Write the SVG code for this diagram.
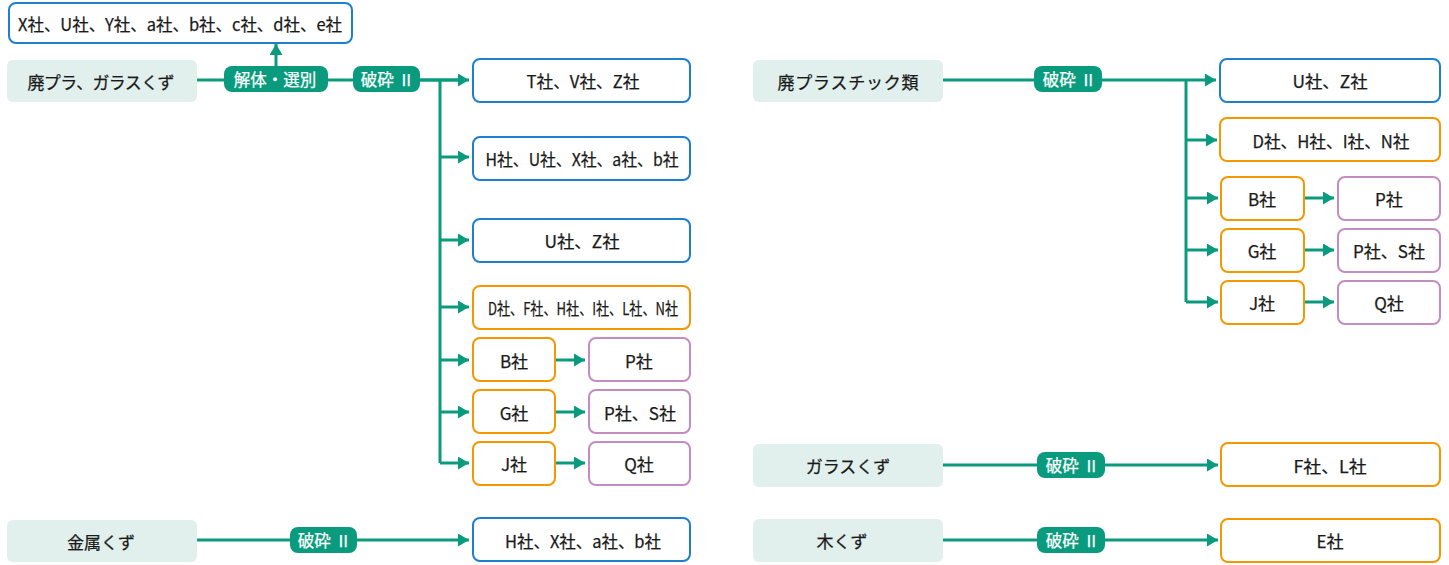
<svg xmlns="http://www.w3.org/2000/svg" width="1449" height="565" viewBox="0 0 1449 565">
<defs>
<marker id="ah" markerUnits="userSpaceOnUse" markerWidth="12" markerHeight="14" refX="11" refY="6.5" orient="auto">
<path d="M0,0 L11,6.5 L0,13 z" fill="#0a9b7e"/>
</marker>
<style>
text{font-family:"Noto Sans CJK JP","Noto Sans",sans-serif;font-size:17px;fill:#1a1a1a;stroke:#1a1a1a;stroke-width:0.25px;text-anchor:middle;dominant-baseline:central;font-weight:400}
.src{fill:#e1f0ec;stroke:none}
.blue{fill:#fff;stroke:#1e7fcd;stroke-width:2}
.org{fill:#fff;stroke:#f39800;stroke-width:2}
.pur{fill:#fff;stroke:#c38dc2;stroke-width:2}
.pill{fill:#0a9b7e}
.pt{fill:#fff;stroke:#fff;font-size:16.5px}
.ln{stroke:#0a9b7e;stroke-width:3;fill:none}
.ar{stroke:#0a9b7e;stroke-width:3;fill:none;marker-end:url(#ah)}
</style>
</defs>
<g id="connectors">
<path class="ln" d="M197,80 H460"/>
<path class="ar" d="M420,80 H469"/>
<path class="ar" d="M276,66 V44"/>
<path class="ln" d="M440,80 V463"/>
<path class="ar" d="M440,157 H469"/>
<path class="ar" d="M440,240 H469"/>
<path class="ar" d="M440,307 H469"/>
<path class="ar" d="M440,360 H469"/>
<path class="ar" d="M440,412 H469"/>
<path class="ar" d="M440,463 H469"/>
<path class="ar" d="M555,360 H585"/>
<path class="ar" d="M555,412 H585"/>
<path class="ar" d="M555,463 H585"/>
<path class="ar" d="M197,540 H469"/>
<path class="ar" d="M943,80 H1216"/>
<path class="ln" d="M1186,80 V302"/>
<path class="ar" d="M1186,140 H1217"/>
<path class="ar" d="M1186,198 H1218"/>
<path class="ar" d="M1186,250 H1218"/>
<path class="ar" d="M1186,302 H1218"/>
<path class="ar" d="M1304,198 H1334"/>
<path class="ar" d="M1304,250 H1334"/>
<path class="ar" d="M1304,302 H1334"/>
<path class="ar" d="M943,465 H1218"/>
<path class="ar" d="M943,540 H1218"/>
</g>
<g id="pills">
<g id="p1"><rect class="pill" x="224" y="66" width="104" height="26" rx="8"/><text class="pt" x="275" y="79">解体・選別</text></g>
<g id="p2"><rect class="pill" x="353" y="66" width="67" height="26" rx="8"/><text class="pt" x="386" y="79">破砕 <tspan dx="4">II</tspan></text></g>
<g id="p3"><rect class="pill" x="290" y="527" width="67" height="26" rx="8"/><text class="pt" x="323" y="540">破砕 <tspan dx="4">II</tspan></text></g>
<g id="p4"><rect class="pill" x="1034" y="66" width="68" height="26" rx="8"/><text class="pt" x="1068" y="79">破砕 <tspan dx="4">II</tspan></text></g>
<g id="p5"><rect class="pill" x="1037" y="452" width="68" height="26" rx="8"/><text class="pt" x="1071" y="465">破砕 <tspan dx="4">II</tspan></text></g>
<g id="p6"><rect class="pill" x="1037" y="527" width="68" height="26" rx="8"/><text class="pt" x="1071" y="540">破砕 <tspan dx="4">II</tspan></text></g>
</g>
<g id="n_top"><rect class="blue" x="9" y="3" width="343" height="40" rx="7"/><text x="180" y="23" textLength="324" lengthAdjust="spacingAndGlyphs">X社、U社、Y社、a社、b社、c社、d社、e社</text></g>
<g id="s1"><rect class="src" x="7" y="60" width="190" height="42" rx="6"/><text x="101" y="81" textLength="147" lengthAdjust="spacing">廃プラ、ガラスくず</text></g>
<g id="n1"><rect class="blue" x="473" y="59" width="217" height="43" rx="7"/><text x="583" y="80" textLength="113" lengthAdjust="spacingAndGlyphs">T社、V社、Z社</text></g>
<g id="n2"><rect class="blue" x="473" y="137" width="217" height="43" rx="7"/><text x="582" y="158" textLength="193" lengthAdjust="spacingAndGlyphs">H社、U社、X社、a社、b社</text></g>
<g id="n3"><rect class="blue" x="473" y="219" width="217" height="43" rx="7"/><text x="582" y="240" textLength="75" lengthAdjust="spacingAndGlyphs">U社、Z社</text></g>
<g id="n4"><rect class="org" x="473" y="286" width="217" height="43" rx="7"/><text x="583" y="307" textLength="190" lengthAdjust="spacingAndGlyphs">D社、F社、H社、I社、L社、N社</text></g>
<g id="n5"><rect class="org" x="473" y="338" width="82" height="43" rx="7"/><text x="514" y="360">B社</text></g>
<g id="n6"><rect class="pur" x="589" y="338" width="101" height="43" rx="7"/><text x="639" y="360">P社</text></g>
<g id="n7"><rect class="org" x="473" y="390" width="82" height="43" rx="7"/><text x="514" y="412">G社</text></g>
<g id="n8"><rect class="pur" x="589" y="390" width="101" height="43" rx="7"/><text x="640" y="412" textLength="72" lengthAdjust="spacingAndGlyphs">P社、S社</text></g>
<g id="n9"><rect class="org" x="473" y="442" width="82" height="43" rx="7"/><text x="514" y="463">J社</text></g>
<g id="n10"><rect class="pur" x="589" y="442" width="101" height="43" rx="7"/><text x="639" y="463">Q社</text></g>
<g id="s2"><rect class="src" x="7" y="520" width="190" height="42" rx="6"/><text x="101" y="541">金属くず</text></g>
<g id="n11"><rect class="blue" x="473" y="518" width="217" height="43" rx="7"/><text x="583" y="540" textLength="156" lengthAdjust="spacingAndGlyphs">H社、X社、a社、b社</text></g>
<g id="s3"><rect class="src" x="753" y="60" width="190" height="42" rx="6"/><text x="848" y="81" textLength="141" lengthAdjust="spacing">廃プラスチック類</text></g>
<g id="r1"><rect class="blue" x="1220" y="59" width="220" height="43" rx="7"/><text x="1330" y="80" textLength="75" lengthAdjust="spacingAndGlyphs">U社、Z社</text></g>
<g id="r2"><rect class="org" x="1220" y="118" width="220" height="43" rx="7"/><text x="1331" y="140" textLength="157" lengthAdjust="spacingAndGlyphs">D社、H社、I社、N社</text></g>
<g id="r3"><rect class="org" x="1221" y="177" width="83" height="43" rx="7"/><text x="1262" y="198">B社</text></g>
<g id="r4"><rect class="pur" x="1338" y="177" width="102" height="43" rx="7"/><text x="1389" y="198">P社</text></g>
<g id="r5"><rect class="org" x="1221" y="229" width="83" height="43" rx="7"/><text x="1262" y="250">G社</text></g>
<g id="r6"><rect class="pur" x="1338" y="229" width="102" height="43" rx="7"/><text x="1389" y="250" textLength="72" lengthAdjust="spacingAndGlyphs">P社、S社</text></g>
<g id="r7"><rect class="org" x="1221" y="281" width="83" height="43" rx="7"/><text x="1262" y="302">J社</text></g>
<g id="r8"><rect class="pur" x="1338" y="281" width="102" height="43" rx="7"/><text x="1389" y="302">Q社</text></g>
<g id="s4"><rect class="src" x="753" y="444" width="190" height="43" rx="6"/><text x="848" y="465">ガラスくず</text></g>
<g id="r9"><rect class="org" x="1221" y="443" width="219" height="43" rx="7"/><text x="1330" y="465" textLength="73" lengthAdjust="spacingAndGlyphs">F社、L社</text></g>
<g id="s5"><rect class="src" x="753" y="519" width="190" height="43" rx="6"/><text x="842" y="540">木くず</text></g>
<g id="r10"><rect class="org" x="1221" y="519" width="219" height="43" rx="7"/><text x="1330" y="540">E社</text></g>
</svg>
